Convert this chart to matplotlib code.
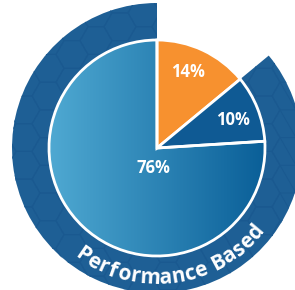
import numpy as np
import matplotlib
matplotlib.use("Agg")
import matplotlib.pyplot as plt
from matplotlib.patches import Wedge, RegularPolygon
from matplotlib.colors import LinearSegmentedColormap
from matplotlib.textpath import TextPath
from matplotlib.font_manager import FontProperties

# data
labels = ["14%", "10%", "76%"]
shares = [14, 10, 76]
ring_label = "Performance Based"

ORANGE = "#f7912f"
DARK = "#0f5a94"
RING = "#1e5f95"
HEX = "#1a5990"
GRAD_L = "#4fa9d2"
GRAD_R = "#0a5f98"

W, H = 295, 290
CX, CY = 157, 142
R_PIE = 108
R_OUT = 145
FONT = "Open Sans"

fig = plt.figure(figsize=(W / 100, H / 100), dpi=100)
ax = fig.add_axes([0, 0, 1, 1])
ax.axis("off")

# slice angles, clockwise from 12 o'clock
bounds = [90.0]
for s in shares:
    bounds.append(bounds[-1] - s * 3.6)

# outer ring covers everything but the first slice
ring = Wedge((CX, CY), R_OUT, 90, bounds[1], width=R_OUT - R_PIE,
             facecolor=RING, edgecolor="none")
ax.add_patch(ring)

# faint hexagon texture on the ring
hr = 16
for i in range(-2, 16):
    for j in range(-2, 14):
        hx = i * 1.5 * hr
        hy = j * np.sqrt(3) * hr + (i % 2) * np.sqrt(3) / 2 * hr
        hp = RegularPolygon((hx, hy), 6, radius=hr, orientation=np.pi / 6,
                            facecolor="none", edgecolor=HEX, lw=0.7)
        ax.add_patch(hp)
        hp.set_clip_path(ring)

# pie slices
colors = [ORANGE, DARK, None]
cmap = LinearSegmentedColormap.from_list("g", [GRAD_L, GRAD_R])
for k, s in enumerate(shares):
    w = Wedge((CX, CY), R_PIE, bounds[k + 1], bounds[k],
              facecolor=colors[k] if colors[k] else "none",
              edgecolor="white", lw=2, zorder=3)
    ax.add_patch(w)
    if colors[k] is None:
        im = ax.imshow(np.linspace(0, 1, 256)[None, :], cmap=cmap, aspect="auto",
                       extent=[CX - R_PIE, CX + R_PIE, CY - R_PIE, CY + R_PIE],
                       zorder=2)
        im.set_clip_path(w)
ax.set_xlim(0, W)
ax.set_ylim(0, H)
ax.set_aspect("equal")

# slice labels
label_pos = [(31, 76), (76, 28), (-4, -20)]
for lab, (dx, dy) in zip(labels, label_pos):
    ax.text(CX + dx, CY + dy, lab, color="white", fontsize=12, fontweight="bold",
            family=FONT, ha="center", va="center", zorder=5)

# curved ring label along the bottom
fp = FontProperties(family=FONT, weight="bold", size=15)
widths = []
for ch in ring_label:
    if ch == " ":
        widths.append(4.0)
        continue
    tp = TextPath((0, 0), ch, prop=fp)
    widths.append(tp.get_extents().width * 100 / 72)
R_TXT = 136
span = np.radians(322 - 233) * R_TXT
gap = (span - sum(widths)) / (len(widths) - 1)
ang = 233
for ch, wd in zip(ring_label, widths):
    a = ang + np.degrees(wd / 2 / R_TXT)
    t = np.radians(a)
    ax.text(CX + R_TXT * np.cos(t), CY + R_TXT * np.sin(t), ch, color="white",
            fontproperties=fp, rotation=a + 90, rotation_mode="anchor",
            ha="center", va="baseline", zorder=5)
    ang += np.degrees((wd + gap) / R_TXT)

fig.savefig("out.png", dpi=100, facecolor="white")
